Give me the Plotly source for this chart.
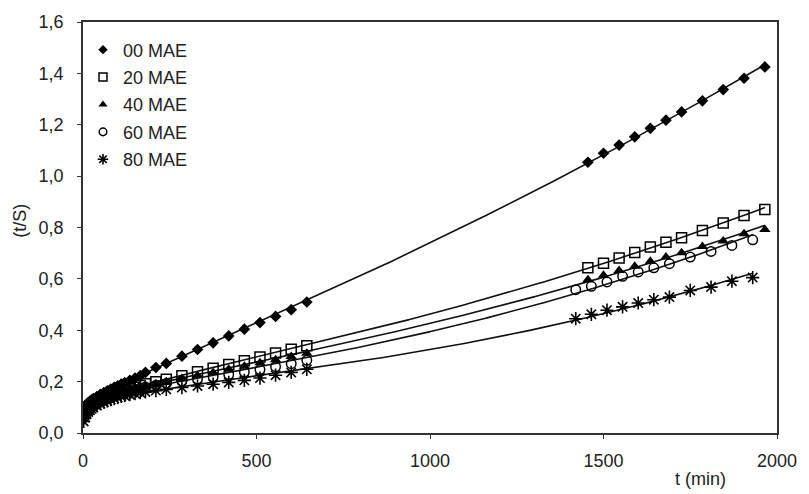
import numpy as np
import plotly.graph_objects as go

# Sampling times (min)
t_early = [2, 5, 10, 15, 20, 25, 30, 40, 50, 60, 70, 80, 90, 100, 110, 120,
           135, 150, 165, 180, 210, 240, 285, 330, 375, 420, 465, 510, 555, 600, 645]
t_late_a = [1455, 1500, 1545, 1590, 1635, 1680, 1725, 1785, 1845, 1905, 1965]
t_late_b = [1420, 1465, 1510, 1555, 1600, 1645, 1690, 1750, 1810, 1870, 1930]

# t/S values for each MAE content
mae00_early = [0.085, 0.100, 0.110, 0.118, 0.124, 0.129, 0.134, 0.142, 0.150, 0.157, 0.164,
               0.171, 0.178, 0.184, 0.190, 0.196, 0.205, 0.214, 0.223, 0.236, 0.255, 0.271,
               0.299, 0.325, 0.351, 0.378, 0.404, 0.430, 0.454, 0.480, 0.510]
mae00_late = [1.054, 1.089, 1.121, 1.153, 1.186, 1.218, 1.250, 1.293, 1.337, 1.381, 1.425]

mae20_early = [0.070, 0.085, 0.095, 0.102, 0.107, 0.111, 0.115, 0.122, 0.128, 0.134, 0.139,
               0.145, 0.150, 0.155, 0.160, 0.165, 0.172, 0.178, 0.185, 0.192, 0.200, 0.209,
               0.223, 0.238, 0.252, 0.267, 0.281, 0.296, 0.311, 0.326, 0.340]
mae20_late = [0.643, 0.661, 0.681, 0.703, 0.724, 0.743, 0.760, 0.788, 0.818, 0.847, 0.870]

mae40_early = [0.068, 0.082, 0.093, 0.100, 0.106, 0.111, 0.115, 0.123, 0.129, 0.135, 0.141,
               0.146, 0.151, 0.156, 0.160, 0.164, 0.170, 0.175, 0.180, 0.184, 0.192, 0.200,
               0.212, 0.224, 0.236, 0.248, 0.260, 0.273, 0.285, 0.298, 0.310]
mae40_late = [0.597, 0.614, 0.633, 0.649, 0.669, 0.685, 0.702, 0.726, 0.747, 0.776, 0.792]

mae60_early = [0.060, 0.076, 0.088, 0.096, 0.102, 0.107, 0.112, 0.120, 0.126, 0.132, 0.138,
               0.143, 0.148, 0.152, 0.156, 0.160, 0.165, 0.170, 0.175, 0.179, 0.186, 0.193,
               0.202, 0.210, 0.219, 0.228, 0.237, 0.247, 0.258, 0.270, 0.283]
mae60_late = [0.558, 0.571, 0.588, 0.610, 0.627, 0.643, 0.659, 0.685, 0.707, 0.730, 0.752]

mae80_early = [0.045, 0.060, 0.073, 0.082, 0.089, 0.094, 0.099, 0.107, 0.114, 0.120, 0.125,
               0.130, 0.134, 0.138, 0.142, 0.145, 0.149, 0.153, 0.157, 0.160, 0.165, 0.170,
               0.177, 0.183, 0.190, 0.197, 0.205, 0.214, 0.225, 0.236, 0.248]
mae80_late = [0.445, 0.462, 0.478, 0.491, 0.506, 0.519, 0.529, 0.555, 0.568, 0.591, 0.605]

names = ["00 MAE", "20 MAE", "40 MAE", "60 MAE", "80 MAE"]
series = [
    (t_early + t_late_a, mae00_early + mae00_late),
    (t_early + t_late_a, mae20_early + mae20_late),
    (t_early + t_late_a, mae40_early + mae40_late),
    (t_early + t_late_b, mae60_early + mae60_late),
    (t_early + t_late_b, mae80_early + mae80_late),
]

x_ticks = [0, 500, 1000, 1500, 2000]
y_ticks = [0.0, 0.2, 0.4, 0.6, 0.8, 1.0, 1.2, 1.4, 1.6]


def marker(i, scale=1.0):
    """Black marker style for series i; scale shrinks it for the legend."""
    styles = [
        dict(symbol="diamond", size=9),
        dict(symbol="square-open", size=10, line=dict(width=1.5, color="black")),
        dict(symbol="triangle-up", size=10),
        dict(symbol="circle-open", size=9.5, line=dict(width=1.5, color="black")),
        dict(symbol="asterisk-open", size=11, line=dict(width=1.6, color="black")),
    ]
    st = dict(styles[i])
    st["size"] = st["size"] * scale
    st["color"] = "black"
    return st


def trend(t, v, grid):
    """Least-squares trend line in the basis 1, sqrt(t), t, t^2."""
    t = np.asarray(t, float)
    v = np.asarray(v, float)
    basis = lambda x: np.column_stack([np.ones_like(x), np.sqrt(x), x, x ** 2])
    coef, *_ = np.linalg.lstsq(basis(t), v, rcond=None)
    return basis(grid) @ coef


fig = go.Figure()

# fitted trend lines over each series' own time span
for t, v in series:
    grid = np.linspace(0, max(t), 500)
    fig.add_trace(go.Scatter(x=grid, y=trend(t, v, grid), mode="lines",
                             line=dict(color="#111111", width=1.6),
                             showlegend=False, hoverinfo="skip"))

# measured points
for i, ((t, v), name) in enumerate(zip(series, names)):
    fig.add_trace(go.Scatter(x=t, y=v, mode="markers", name=name, marker=marker(i),
                             showlegend=False))

# legend entries with compact symbols
for i, name in enumerate(names):
    fig.add_trace(go.Scatter(x=[None], y=[None], mode="markers", name=name,
                             marker=marker(i, 0.8), legendgroup=str(i)))

font = "Liberation Sans, Arial, sans-serif"
fig.update_layout(
    width=809, height=494,
    margin=dict(l=83, r=23, t=19, b=61),
    paper_bgcolor="white", plot_bgcolor="white",
    separators=",.",
    font=dict(family=font, size=17, color="#222222"),
    showlegend=True,
    legend=dict(x=0.0, y=0.977, xanchor="left", yanchor="top",
                bgcolor="rgba(0,0,0,0)", font=dict(size=18, color="#222222"),
                tracegroupgap=1, itemwidth=30),
    xaxis=dict(range=[0, 2000], tickvals=x_ticks, tickformat="d",
               showgrid=False, zeroline=False,
               showline=True, linecolor="#333333", linewidth=1.5, mirror=True,
               ticks="outside", ticklen=4, tickcolor="#333333",
               ticklabelstandoff=7, tickfont=dict(size=18)),
    yaxis=dict(range=[0, 1.6], tickvals=y_ticks, tickformat=".1f",
               showgrid=False, zeroline=False,
               showline=True, linecolor="#333333", linewidth=1.5, mirror=True,
               ticks="outside", ticklen=4, tickcolor="#333333",
               ticklabelstandoff=10, tickfont=dict(size=18)),
    annotations=[
        dict(text="t (min)", xref="paper", yref="paper", x=0.89, y=-0.113,
             xanchor="center", yanchor="middle", showarrow=False,
             font=dict(size=18)),
        dict(text="(t/S)", xref="paper", yref="paper", x=-0.092, y=0.517,
             xanchor="center", yanchor="middle", textangle=-90, showarrow=False,
             font=dict(size=18)),
    ],
)

fig.write_html("out.html")
